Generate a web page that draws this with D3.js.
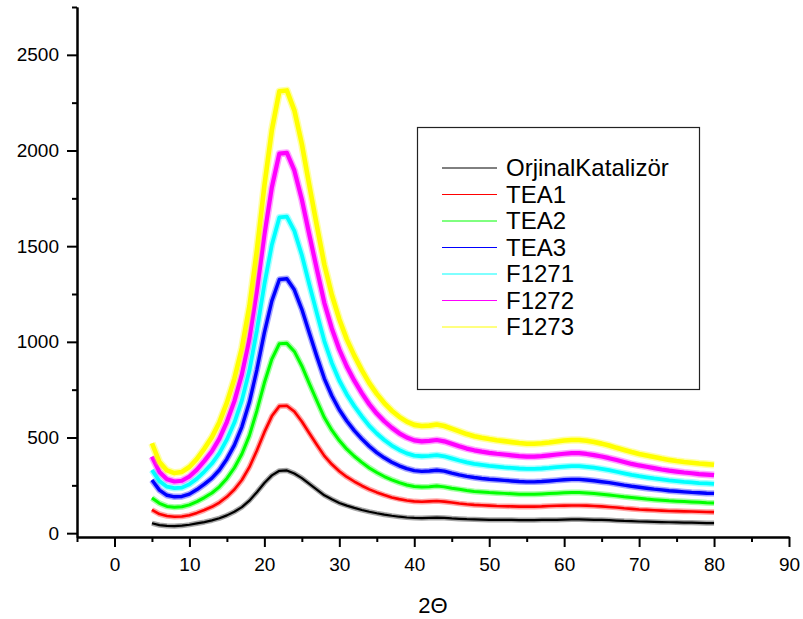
<!DOCTYPE html>
<html>
<head>
<meta charset="utf-8">
<script src="https://cdn.jsdelivr.net/npm/d3@7"></script>
<style>
  body { margin: 0; background: #fff; }
  .tick text { font-family: "Liberation Sans", Arial, sans-serif; font-size: 19px; fill: #000; }
  .axis path, .axis line { stroke: #000; stroke-width: 2; }
  .legend-text { font-family: "Liberation Sans", Arial, sans-serif; font-size: 24px; fill: #000; }
  .axis-tag { font-family: "Liberation Sans", Arial, sans-serif; font-size: 22px; fill: #000; }
</style>
</head>
<body>
<div id="chart"></div>
<script>
// 2 theta (degrees)
let angles = [5,6,7,8,9,10,11,12,13,14,15,16,17,18,19,20,21,22,23,24,25,26,27,28,29,30,31,32,33,34,35,36,37,38,39,40,
  41,42,43,44,45,46,47,48,49,50,51,52,53,54,55,56,57,58,59,60,61,62,63,64,65,66,67,68,69,70,71,72,73,74,75,76,77,78,79,80];

let orjinal = [52,42,38,37,39,44,51,58,67,78,93,112,136,170,214,262,302,326,328,312,288,258,228,198,177,158,144,132,121,112,104,97,91,86,82,80,
  79,80,81,80,77,75,73,72,71,70,70,69,69,68,68,68,69,70,70,71,72,72,71,70,69,68,66,64,63,61,60,59,58,57,56,55,55,54,53,53];
let tea1 = [122,100,90,86,87,94,106,121,138,160,190,228,278,345,432,528,612,664,666,636,584,522,462,404,360,324,294,270,248,229,213,199,187,178,171,166,
  164,166,168,165,160,155,151,148,146,144,142,141,140,139,139,139,140,142,143,144,145,145,144,142,140,137,134,130,127,124,122,120,118,116,115,114,113,112,111,110];
let tea2 = [184,156,140,136,138,148,165,186,210,242,286,342,414,510,640,786,910,990,992,950,874,782,692,604,538,484,439,402,370,341,317,296,279,264,252,244,
  241,243,246,242,235,229,223,218,215,212,210,208,206,204,203,203,205,207,209,211,212,212,210,207,204,200,195,190,186,182,178,175,172,169,167,165,163,161,159,158];
let tea3 = [278,225,198,190,192,204,228,256,288,330,388,460,556,684,854,1048,1214,1326,1330,1272,1170,1046,924,808,718,645,586,536,493,454,421,394,371,352,337,327,
  323,325,329,324,314,305,297,291,286,282,279,276,273,270,268,268,270,273,276,279,281,281,278,274,269,264,258,251,245,240,235,230,226,222,219,216,213,211,209,208];
let f1271 = [330,272,243,235,238,256,285,322,364,418,490,578,694,850,1060,1300,1508,1650,1654,1580,1454,1300,1150,1004,890,798,725,664,610,561,521,487,458,435,417,405,
  402,404,408,402,391,380,370,362,357,352,348,344,341,338,336,336,338,341,345,348,350,350,347,342,336,329,321,313,305,298,292,286,281,276,272,268,265,262,260,258];
let f1272 = [400,320,282,270,274,296,332,378,428,494,582,690,830,1016,1268,1558,1808,1984,1988,1896,1744,1560,1380,1204,1070,960,871,797,732,674,625,585,551,522,500,485,
  480,482,487,480,467,454,442,433,426,420,415,411,407,403,400,400,403,407,411,415,418,418,414,408,401,392,382,372,362,354,347,340,333,327,322,317,313,309,306,303];
let f1273 = [470,372,328,314,320,346,388,442,502,580,682,808,968,1186,1478,1816,2108,2310,2314,2210,2034,1818,1608,1404,1246,1118,1013,928,852,784,728,680,640,608,583,566,
  560,562,568,560,546,532,518,507,499,492,486,481,476,471,467,467,470,474,479,484,487,487,483,476,468,458,446,435,424,414,406,398,390,383,377,372,368,364,361,358];

let series_names = ["OrjinalKatalizör","TEA1","TEA2","TEA3","F1271","F1272","F1273"];
let series_values = [orjinal, tea1, tea2, tea3, f1271, f1272, f1273];
let series_colors = ["#000000","#ff0000","#00ff00","#0000ff","#00ffff","#ff00ff","#ffff00"];
let series_widths = [2.2,2.6,3,3.4,3.8,4.2,4.6];

let y_ticks = [0,500,1000,1500,2000,2500];
let y_minor = [250,750,1250,1750,2250,2750];
let x_ticks = [0,10,20,30,40,50,60,70,80,90];
let x_minor = [-5,5,15,25,35,45,55,65,75,85];

function renderChart(){
  let total_width = 803;
  let total_height = 619;

  var x = d3.scaleLinear().domain([-5, 90]).range([77, 789]);
  var y = d3.scaleLinear().domain([-20, 2750]).range([537, 7]);

  var svg = d3.select("#chart").append("svg")
      .attr("width", total_width)
      .attr("height", total_height);

  svg.append("rect")
    .attr("width", total_width)
    .attr("height", total_height)
    .attr("fill", "#fff");

  // curves, black first, yellow on top
  var line = d3.line()
    .x(d => x(d[0]))
    .y(d => y(d[1]));

  series_values.forEach((vals, i) => {
    let pts = angles.map((a, j) => [a, vals[j]]);
    // soft halo to look a bit like the noisy band
    svg.append("path")
      .datum(pts)
      .attr("fill", "none")
      .attr("stroke", series_colors[i])
      .attr("stroke-opacity", 0.35)
      .attr("stroke-width", series_widths[i] + 3)
      .attr("stroke-linejoin", "round")
      .attr("d", line);
    svg.append("path")
      .datum(pts)
      .attr("fill", "none")
      .attr("stroke", series_colors[i])
      .attr("stroke-width", series_widths[i])
      .attr("stroke-linejoin", "round")
      .attr("d", line);
  });

  // y axis
  svg.append("g")
    .attr("class", "axis")
    .attr("transform", "translate(77,0)")
    .call(d3.axisLeft(y).tickValues(y_ticks).tickSize(10).tickSizeOuter(0).tickPadding(8).tickFormat(d3.format("d")));
  svg.append("g")
    .attr("class", "axis")
    .attr("transform", "translate(77,0)")
    .call(d3.axisLeft(y).tickValues(y_minor).tickSize(5).tickSizeOuter(0).tickFormat(""));

  // x axis
  svg.append("g")
    .attr("class", "axis")
    .attr("transform", "translate(0,537)")
    .call(d3.axisBottom(x).tickValues(x_ticks).tickSize(10).tickSizeOuter(0).tickPadding(11).tickFormat(d3.format("d")));
  svg.append("g")
    .attr("class", "axis")
    .attr("transform", "translate(0,537)")
    .call(d3.axisBottom(x).tickValues(x_minor).tickSize(5).tickSizeOuter(0).tickFormat(""));

  svg.append("text")
    .attr("class", "axis-tag")
    .attr("x", (x.range()[0] + x.range()[1]) / 2)
    .attr("y", 613)
    .attr("text-anchor", "middle")
    .text("2Θ");

  // legend
  let lg = svg.append("g");
  lg.append("rect")
    .attr("x", 417.5).attr("y", 127.5)
    .attr("width", 282).attr("height", 262)
    .attr("fill", "#fff")
    .attr("stroke", "#222")
    .attr("stroke-width", 1.2);

  let row_start = 168, row_step = 26.5;
  series_names.forEach((name, i) => {
    let ry = row_start + i * row_step;
    lg.append("line")
      .attr("x1", 442).attr("x2", 497)
      .attr("y1", ry).attr("y2", ry)
      .attr("stroke", series_colors[i])
      .attr("stroke-width", 1);
    lg.append("text")
      .attr("class", "legend-text")
      .attr("x", 506)
      .attr("y", ry)
      .attr("dy", "0.35em")
      .text(name);
  });
}

renderChart();
</script>
</body>
</html>
